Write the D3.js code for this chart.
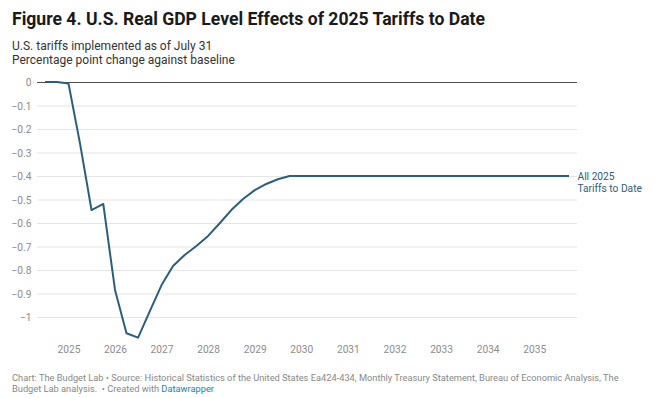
<!DOCTYPE html>
<html>
<head>
<meta charset="utf-8">
<script src="https://cdn.jsdelivr.net/npm/d3@7"></script>
<style>
  html, body { margin: 0; padding: 0; background: #fff; }
  svg { display: block; font-family: Roboto, "Noto Sans", sans-serif; }
</style>
</head>
<body>
<svg id="chart" width="658" height="398"></svg>
<script>
// ---- data ----
const quarters = [
  "2024-07-01","2024-10-01",
  "2025-01-01","2025-04-01","2025-07-01","2025-10-01",
  "2026-01-01","2026-04-01","2026-07-01","2026-10-01",
  "2027-01-01","2027-04-01","2027-07-01","2027-10-01",
  "2028-01-01","2028-04-01","2028-07-01","2028-10-01",
  "2029-01-01","2029-04-01","2029-07-01","2029-10-01",
  "2030-01-01","2030-04-01","2030-07-01","2030-10-01",
  "2031-01-01","2031-04-01","2031-07-01","2031-10-01",
  "2032-01-01","2032-04-01","2032-07-01","2032-10-01",
  "2033-01-01","2033-04-01","2033-07-01","2033-10-01",
  "2034-01-01","2034-04-01","2034-07-01","2034-10-01",
  "2035-01-01","2035-04-01","2035-07-01","2035-10-01"
];
const gdpEffect = [
  0, 0,
  -0.006, -0.26, -0.545, -0.519,
  -0.885, -1.069, -1.088, -0.975,
  -0.864, -0.783, -0.736, -0.698,
  -0.655, -0.601, -0.545, -0.498,
  -0.46, -0.434, -0.414, -0.4,
  -0.4, -0.4, -0.4, -0.4,
  -0.4, -0.4, -0.4, -0.4,
  -0.4, -0.4, -0.4, -0.4,
  -0.4, -0.4, -0.4, -0.4,
  -0.4, -0.4, -0.4, -0.4,
  -0.4, -0.4, -0.4, -0.4
];
const yTicks = [0, -0.1, -0.2, -0.3, -0.4, -0.5, -0.6, -0.7, -0.8, -0.9, -1];
const xTickYears = [2025, 2026, 2027, 2028, 2029, 2030, 2031, 2032, 2033, 2034, 2035];
const seriesLabel = ["All 2025", "Tariffs to Date"];
const titleText = "Figure 4. U.S. Real GDP Level Effects of 2025 Tariffs to Date";
const subtitleLines = ["U.S. tariffs implemented as of July 31", "Percentage point change against baseline"];
const footerLine1 = "Chart: The Budget Lab \u2022 Source: Historical Statistics of the United States Ea424-434, Monthly Treasury Statement, Bureau of Economic Analysis, The";
const footerLine2 = "Budget Lab analysis.  \u2022 Created with ";
const footerLink = "Datawrapper";

// ---- layout ----
const parse = d3.timeParse("%Y-%m-%d");
const data = quarters.map((q, i) => ({ date: parse(q), value: gdpEffect[i] }));
const lineColor = "#2a5f7c";

const svg = d3.select("#chart");

const x = d3.scaleTime()
  .domain([data[0].date, data[data.length - 1].date])
  .range([45, 569]);
const y = d3.scaleLinear()
  .domain([-1.1, 0])
  .range([340.5, 82]);

const gridX0 = 37, gridX1 = 577;

// title
svg.append("text")
  .attr("x", 12).attr("y", 25)
  .attr("font-size", 17.6).attr("font-weight", 700)
  .attr("fill", "#1a1a1a")
  .text(titleText);

svg.selectAll("text.sub").data(subtitleLines).enter().append("text")
  .attr("class", "sub")
  .attr("x", 12).attr("y", (d, i) => 50 + i * 13.5)
  .attr("font-size", 12).attr("fill", "#333")
  .text(d => d);

// gridlines
const yAxis = d3.axisLeft(y).tickValues(yTicks)
  .tickSize(-(gridX1 - gridX0))
  .tickFormat(d => d === 0 ? "0" : d3.format("")(d).replace("-", "\u2212"));

const gy = svg.append("g")
  .attr("transform", `translate(${gridX0},0)`)
  .call(yAxis);
gy.select(".domain").remove();
gy.selectAll(".tick line")
  .attr("stroke", d => d === 0 ? "#4d4d4d" : "#e5e5e5")
  .attr("stroke-width", 1);
gy.selectAll(".tick text")
  .attr("x", -5.5)
  .attr("dy", "0.35em")
  .attr("font-size", 10.2)
  .attr("font-family", "Roboto, sans-serif")
  .attr("fill", "#8c8c8c");
gy.selectAll(".tick").filter(d => d === 0).raise();

// x axis labels
const xAxis = d3.axisBottom(x)
  .tickValues(xTickYears.map(yr => new Date(yr, 0, 1)))
  .tickSize(0)
  .tickFormat(d3.timeFormat("%Y"));
const gx = svg.append("g")
  .attr("transform", "translate(0,340)")
  .call(xAxis);
gx.select(".domain").remove();
gx.selectAll(".tick text")
  .attr("y", 9)
  .attr("dy", "0.35em")
  .attr("font-size", 10.2)
  .attr("font-family", "Roboto, sans-serif")
  .attr("fill", "#8c8c8c");

// line
const line = d3.line()
  .x(d => x(d.date))
  .y(d => y(d.value));

svg.append("path")
  .datum(data)
  .attr("fill", "none")
  .attr("stroke", lineColor)
  .attr("stroke-width", 2)
  .attr("stroke-linejoin", "round")
  .attr("d", line);

// series label
const last = data[data.length - 1];
svg.append("text")
  .attr("x", 577.5)
  .attr("y", y(last.value) + 4)
  .attr("font-size", 10.2)
  .attr("fill", lineColor)
  .selectAll("tspan").data(seriesLabel).enter().append("tspan")
  .attr("x", 577.5)
  .attr("dy", (d, i) => i === 0 ? 0 : 11.5)
  .text(d => d);

// footer
svg.append("text")
  .attr("x", 12).attr("y", 380.5)
  .attr("font-size", 9.28).attr("fill", "#888")
  .text(footerLine1);
const f2 = svg.append("text")
  .attr("x", 12).attr("y", 391.8)
  .attr("font-size", 9.28).attr("fill", "#888")
  .attr("xml:space", "preserve")
  .style("white-space", "pre");
f2.append("tspan").text(footerLine2);
f2.append("tspan").attr("fill", "#1d81a2").text(footerLink);
</script>
</body>
</html>
